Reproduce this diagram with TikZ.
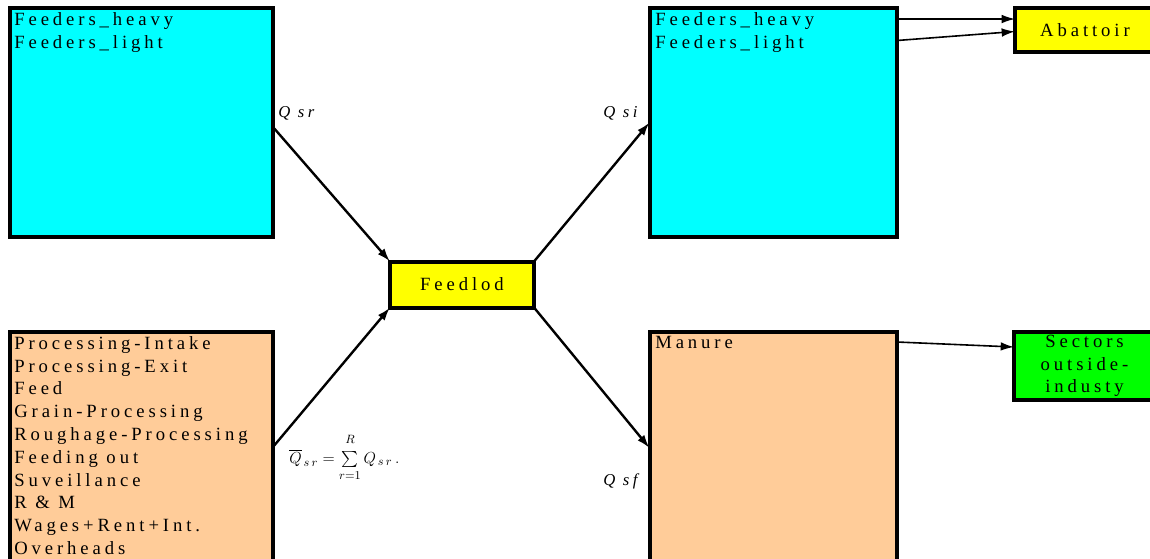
\documentclass[tikz,border=0pt]{standalone}
\usepackage{amsmath}
\usepackage{fontspec}
\setmainfont{Liberation Serif}[LetterSpace=21]
\usetikzlibrary{arrows.meta,calc}

\definecolor{boxcyan}{RGB}{0,255,255}
\definecolor{boxpeach}{RGB}{255,204,153}
\definecolor{boxyellow}{RGB}{255,255,0}
\definecolor{boxgreen}{RGB}{0,255,0}

\tikzset{
  blk/.style={draw,line width=3pt,inner sep=0pt,outer sep=0pt,anchor=north west,
    font=\fontsize{14}{17.1}\selectfont},
  lst/.style={anchor=north west,align=left,inner sep=0pt,
    font=\fontsize{14}{17.1}\selectfont},
  lab/.style={anchor=base west,inner sep=0pt,font=\fontsize{12.5}{14}\selectfont\itshape},
  flow/.style={line width=1.8pt,-{Latex[length=10pt,width=6.5pt]}},
  sideflow/.style={line width=1.2pt,-{Latex[length=10pt,width=6.5pt]}}
}

\begin{document}
\begin{tikzpicture}[x=0.75pt,y=-0.75pt]
\clip (0,0) rectangle (1150,558);

% boxes
\node[blk,fill=boxcyan,minimum width=197.6pt,minimum height=171.75pt] (heavy) at (9.5,8) {};
\node[blk,fill=boxpeach,minimum width=197.6pt,minimum height=201pt] (proc) at (9.5,332) {};
\node[blk,fill=boxyellow,minimum width=108pt,minimum height=34.5pt] (lot) at (390,261.5) {Feedlod};
\node[blk,fill=boxcyan,minimum width=185.6pt,minimum height=171.75pt] (fin) at (649.5,8) {};
\node[blk,fill=boxpeach,minimum width=185.6pt,minimum height=201pt] (man) at (649.5,332) {};
\node[blk,fill=boxyellow,minimum width=105pt,minimum height=33pt] (abat) at (1015,8) {Abattoir};
\node[blk,fill=boxgreen,minimum width=105.75pt,minimum height=51pt,align=center] (sec) at (1014,332) {Sectors\\outside-\\industy};

% box contents
\node[lst] (heavytxt) at ([shift={(4.5,4.5)}]heavy.north west) {Feeders\_heavy\\Feeders\_light};
\node[lst] (proctxt) at ([shift={(4.5,4)}]proc.north west) {Processing-Intake\\Processing-Exit\\Feed\\Grain-Processing\\Roughage-Processing\\Feeding out\\Suveillance\\R \& M\\Wages+Rent+Int.\\Overheads};
\node[lst] (fintxt) at ([shift={(5.5,4.5)}]fin.north west) {Feeders\_heavy\\Feeders\_light};
\node[lst] (mantxt) at ([shift={(5.5,4)}]man.north west) {Manure};

% flows
\draw[flow] ($(heavy.east)+(0,4.5)$) -- (lot.north west);
\draw[flow] ($(proc.east)+(0,-19)$) -- (lot.south west);
\draw[flow] (lot.north east) -- (fin.west);
\draw[flow] (lot.south east) -- ($(man.west)+(0,-18)$);
\draw[sideflow] ($(fin.north east)+(0,11)$) -- ($(abat.west)+(0,-11)$);
\draw[sideflow] ($(fin.north east)+(0,32.5)$) -- ($(abat.west)+(0,1.5)$);
\draw[sideflow] ($(man.north east)+(0,10)$) -- ($(sec.west)+(0,-19)$);

% labels
\node[lab] (qsr) at (278,117) {Q sr};
\node[lab] (qsi) at (603,117) {Q si};
\node[lab] (qsf) at (603,485) {Q sf};
\node[anchor=base west,inner sep=0pt,font=\fontsize{12.5}{15}\selectfont] (sumq) at (289,463)
  {$\overline{Q}_{\,s\,r} = \sum\limits_{\raisebox{-2pt}{$\scriptstyle r=1$}}^{\raisebox{3pt}{$\scriptstyle R$}} Q_{\,s\,r}\,.$};

\end{tikzpicture}
\end{document}
